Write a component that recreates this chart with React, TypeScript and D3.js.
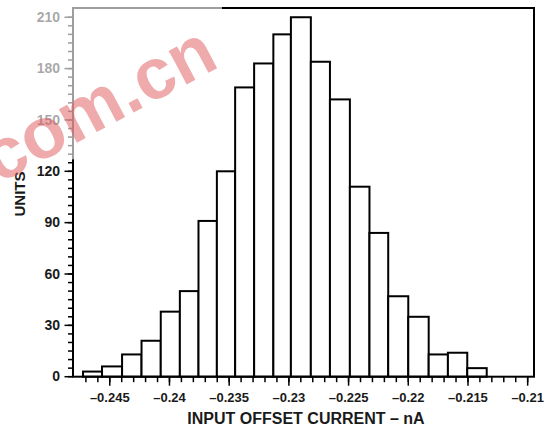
import React from "react";
import * as d3 from "d3";

// Histogram bin edges (nA)
const binEdges = [
  -0.24724, -0.24565, -0.24397, -0.24234, -0.24073, -0.23913, -0.23757,
  -0.23603, -0.2345, -0.23291, -0.2313, -0.22983, -0.22816, -0.22656,
  -0.22489, -0.22325, -0.22168, -0.22, -0.21829, -0.21668, -0.21506, -0.21343,
];
// Units per bin
const counts = [3, 6, 13, 21, 38, 50, 91, 120, 169, 183, 200, 210, 184, 162, 111, 84, 47, 35, 13, 14, 5];

const xTickValues = [-0.245, -0.24, -0.235, -0.23, -0.225, -0.22, -0.215, -0.21];
const xTickLabels = ["–0.245", "–0.24", "–0.235", "–0.23", "–0.225", "–0.22", "–0.215", "–0.21"];
const yTickValues = [0, 30, 60, 90, 120, 150, 180, 210];
const yTickLabels = ["0", "30", "60", "90", "120", "150", "180", "210"];
const xTitle = "INPUT OFFSET CURRENT – nA";
const yTitle = "UNITS";
const watermark = "com.cn";

const W = 558;
const H = 428;
const L = 73;
const R = 534;
const T = 8;
const B = 376.7;
const FONT = "'Liberation Sans', Arial, Helvetica, sans-serif";
const INK = "#1a1a1a";

export default function App() {
  const x = d3.scaleLinear().domain([-0.24808, -0.20947]).range([L, R]);
  const y = d3.scaleLinear().domain([0, 215.4]).range([B, T]);

  const xMinor = d3.range(-0.247, -0.2095, 0.001);
  const yMinor = d3.range(0, 215, 5);

  return (
    <svg
      width={W}
      height={H}
      viewBox={`0 0 ${W} ${H}`}
      style={{ position: "absolute", left: 0, top: 0, display: "block", background: "#fff" }}
    >
      <rect x={0} y={0} width={W} height={H} fill="#fff" />
      {/* bars */}
      {counts.map((c, i) => (
        <rect
          key={i}
          x={x(binEdges[i])}
          y={y(c)}
          width={x(binEdges[i + 1]) - x(binEdges[i])}
          height={y(0) - y(c)}
          fill="#fff"
          stroke="#000"
          strokeWidth={2}
        />
      ))}
      {/* frame */}
      <rect x={L} y={T} width={R - L} height={B - T} fill="none" stroke="#000" strokeWidth={2} />
      {/* y ticks */}
      {yMinor.map((v) => (
        <line key={"ym" + v} x1={L - 5} x2={L} y1={y(v)} y2={y(v)} stroke="#000" strokeWidth={1.5} />
      ))}
      {yTickValues.map((v, i) => (
        <g key={"y" + v}>
          <line x1={L - 8.5} x2={L} y1={y(v)} y2={y(v)} stroke="#000" strokeWidth={1.5} />
          <text
            x={60}
            y={y(v)}
            dy="0.34em"
            textAnchor="end"
            fontFamily={FONT}
            fontWeight="bold"
            fontSize={14}
            fill={INK}
          >
            {yTickLabels[i]}
          </text>
        </g>
      ))}
      {/* x ticks */}
      {xMinor.map((v, i) => (
        <line key={"xm" + i} x1={x(v)} x2={x(v)} y1={B} y2={B + 5.5} stroke="#000" strokeWidth={1.5} />
      ))}
      {xTickValues.map((v, i) => (
        <g key={"x" + i}>
          <line x1={x(v)} x2={x(v)} y1={B} y2={B + 9} stroke="#000" strokeWidth={1.5} />
          <text
            x={x(v)}
            y={401.5}
            textAnchor="middle"
            fontFamily={FONT}
            fontWeight="bold"
            fontSize={13}
            fill={INK}
          >
            {xTickLabels[i]}
          </text>
        </g>
      ))}
      {/* axis titles */}
      <text
        x={306}
        y={424}
        textAnchor="middle"
        fontFamily={FONT}
        fontWeight="bold"
        fontSize={16}
        fill={INK}
      >
        {xTitle}
      </text>
      <text
        transform={`translate(25,194) rotate(-90)`}
        textAnchor="middle"
        fontFamily={FONT}
        fontWeight="bold"
        fontSize={15}
        fill={INK}
      >
        {yTitle}
      </text>
      {/* watermark wash */}
      <polygon points="0,0 222,0 222,48 85,158 0,168" fill="#fff" opacity={0.62} />
      {/* watermark */}
      <text
        transform={`translate(221,66) rotate(-28)`}
        textAnchor="end"
        fontFamily={FONT}
        fontWeight="bold"
        fontSize={72}
        fill="#e0595c"
        opacity={0.5}
      >
        {watermark}
      </text>
    </svg>
  );
}
